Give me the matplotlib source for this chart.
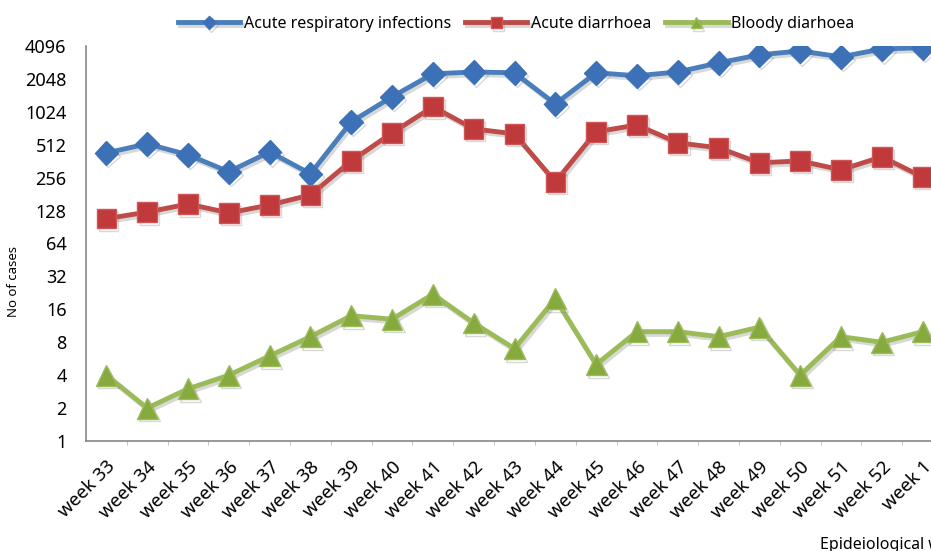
import numpy as np
import matplotlib
matplotlib.use("Agg")
import matplotlib.pyplot as plt
import matplotlib.patheffects as pe
from matplotlib.ticker import FixedLocator, NullFormatter

weeks = ["week 33", "week 34", "week 35", "week 36", "week 37", "week 38",
         "week 39", "week 40", "week 41", "week 42", "week 43", "week 44",
         "week 45", "week 46", "week 47", "week 48", "week 49", "week 50",
         "week 51", "week 52", "week 1"]

respiratory = [431, 522, 414, 290, 440, 278, 830, 1405, 2280, 2370, 2330,
               1210, 2330, 2190, 2370, 2870, 3400, 3690, 3260, 3850, 3950]
diarrhoea = [108, 124, 147, 122, 144, 178, 364, 657, 1140, 715, 644,
             234, 672, 777, 533, 480, 350, 364, 302, 397, 260]
bloody = [4, 2, 3, 4, 6, 9, 14, 13, 22, 12, 7,
          20, 5, 10, 10, 9, 11, 4, 9, 8, 10]

yticks = [1, 2, 4, 8, 16, 32, 64, 128, 256, 512, 1024, 2048, 4096]

plt.rcParams['font.family'] = ['Noto Sans', 'DejaVu Sans']

fig = plt.figure(figsize=(9.31, 5.51), dpi=100)
W, H = 931., 551.
ax = fig.add_axes([86/W, 1 - 441/H, (943 - 86)/W, (441 - 46)/H])

x = np.arange(len(weeks))
shadow = [pe.SimpleLineShadow(offset=(1.5, -2), shadow_color='gray', alpha=0.3), pe.Normal()]

ax.plot(x, respiratory, color="#4A7EBB", linewidth=3.5, marker="D",
        markersize=12, markerfacecolor="#3C71B8", markeredgecolor="#3C71B8",
        label="Acute respiratory infections", path_effects=shadow)
ax.plot(x, diarrhoea, color="#BE4B48", linewidth=3.5, marker="s",
        markersize=14, markerfacecolor="#C0393B", markeredgecolor="#D05555",
        label="Acute diarrhoea", path_effects=shadow)
ax.plot(x, bloody, color="#9BBB59", linewidth=3.5, marker="^",
        markersize=15, markerfacecolor="#86AA3E", markeredgecolor="#9BBB59",
        label="Bloody diarhoea", path_effects=shadow)

ax.set_yscale("log", base=2)
ax.set_ylim(1, 4096)
ax.yaxis.set_major_locator(FixedLocator(yticks))
ax.set_yticklabels([str(v) for v in yticks], fontsize=13)
ax.yaxis.set_minor_locator(FixedLocator([]))
ax.yaxis.set_minor_formatter(NullFormatter())
ax.tick_params(axis="y", length=0, pad=14)

ax.set_xlim(-0.5, len(weeks) - 0.5)
ax.set_xticks(x)
ax.set_xticklabels(weeks, rotation=45, ha="right", rotation_mode="anchor",
                   fontsize=13.5)
ax.xaxis.set_minor_locator(FixedLocator(x[:-1] + 0.5))
ax.tick_params(axis="x", which="major", length=0, pad=12)
ax.tick_params(axis="x", which="minor", length=3, color="#BBBBBB")

for s in ["top", "right"]:
    ax.spines[s].set_visible(False)
for s in ["left", "bottom"]:
    ax.spines[s].set_color("#868686")
    ax.spines[s].set_linewidth(1.2)

ax.set_ylabel("No of cases", fontsize=9.5)
ax.yaxis.set_label_coords(-0.077, 0.405)

fig.text(820/W, 1 - 545/H, "Epideiological week", fontsize=11.5,
         ha="left", va="center")

fig.legend(loc="center", bbox_to_anchor=(516/W, 1 - 24/H), ncol=3,
           frameon=False, fontsize=11.5, handlelength=3.9, columnspacing=0.9,
           handletextpad=0.2, markerscale=0.55)

fig.savefig("out.png", dpi=100)
